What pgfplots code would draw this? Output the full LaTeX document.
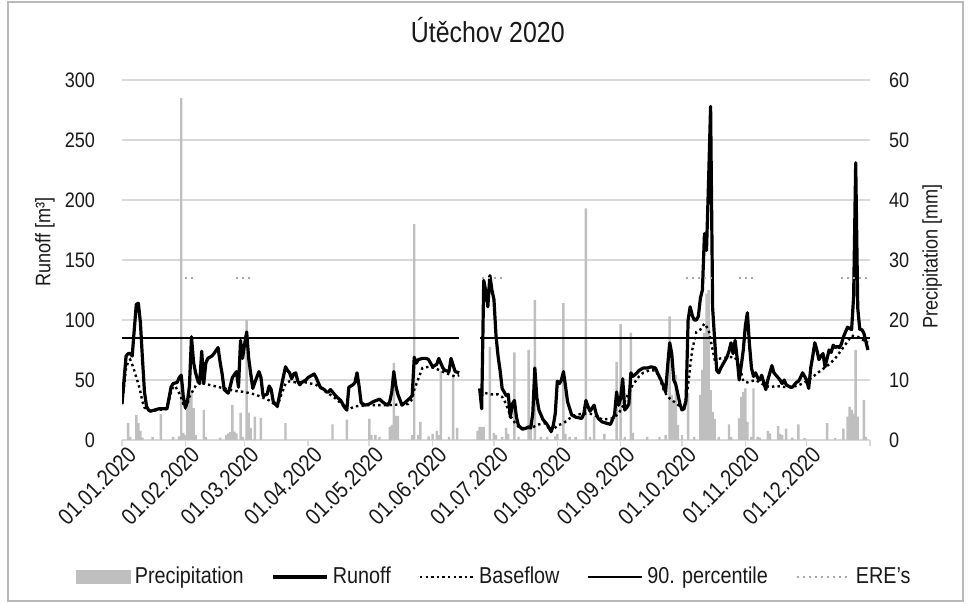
\documentclass[border=0pt]{standalone}
\usepackage{fontspec}
\setmainfont{Liberation Sans}[FakeStretch=0.86]
\usepackage{pgfplots}
\pgfplotsset{compat=1.18}
\definecolor{pgray}{RGB}{191,191,191}
\definecolor{gridc}{RGB}{217,217,217}
\definecolor{erec}{RGB}{170,170,170}
\definecolor{txt}{RGB}{25,25,25}
\newcommand{\fs}{\fontsize{10.5}{12.6}\selectfont}
\newcommand{\fl}{\fontsize{11.5}{13.8}\selectfont}

\pgfplotstableread{
d P
3 2.8
4 0.5
7 4.2
8 2.8
9 1.5
10 0.4
15 0.5
19 4.3
25 0.5
28 0.6
29 57
30 1.2
31 0.8
32 6.4
33 7.5
34 8
35 5.3
36 0.8
40 5
41 0.5
48 0.4
51 0.8
52 1.1
53 1.3
54 5.8
55 1.4
56 1.1
58 4.5
59 0.5
61 20
62 4.5
63 2
65 3.9
68 3.7
80 2.8
103 2.6
110 3.4
121 3.5
122 0.8
124 0.8
126 0.5
131 2.2
132 2.5
133 12.8
134 4
135 4
142 0.8
143 36
145 0.8
146 3
150 0.6
152 1
154 1.5
155 0.8
156 11.5
160 0.5
162 10.8
164 2
174 1.5
175 2.2
176 2.2
177 2.2
180 15.5
182 1.2
183 0.8
186 0.5
188 2
189 1
192 14.6
194 0.5
199 15
200 2.3
202 23.3
205 0.5
208 0.5
212 0.6
213 1
216 22.8
217 1
219 0.5
222 0.5
227 38.6
229 0.5
231 3.9
236 1
242 13
244 19.3
246 0.5
249 17.9
250 1.2
257 0.5
263 0.5
266 0.8
268 20.6
269 7.5
270 6.1
271 10.8
272 2.5
274 0.8
277 7.8
280 0.5
283 7.5
284 11.7
285 17.8
286 24.4
287 25
288 8.3
289 4.7
290 3.5
292 0.5
297 2.6
298 0.5
302 3.6
303 7.2
304 8
305 8.6
306 3
308 0.5
309 8.6
311 0.5
312 0.4
316 1.5
317 1.1
321 2.3
322 1
323 0.8
325 1.9
328 0.4
331 2.6
334 0.3
345 2.8
349 0.3
353 1.9
355 3.9
356 5.5
357 5
358 4.4
359 15
360 3.9
363 6.7
364 0.5
}\precip

\pgfplotstableread{
d R
0 30
1 50
2 70
3 72
4 72
5 70
6 92
7 113
8 114
9 98
10 68
11 40
12 28
13 25
14 24
16 25
18 26
20 26
22 26
23 35
24 44
25 47
27 48
28 52
29 54
30 36
31 27
32 32
33 45
34 86
35 65
36 56
37 50
38 47
39 74
40 47
41 64
42 68
44 70
45 72
47 77
48 65
49 55
50 42
52 39
53 45
54 52
56 57
57 44
58 83
59 68
60 80
61 90
62 68
63 55
64 43
65 48
67 57
68 52
69 37
71 38
72 45
73 42
74 32
76 28
78 45
80 61
81 58
82 56
83 51
84 55
85 56
86 49
87 46
88 48
90 50
91 52
92 53
94 55
95 52
96 48
97 44
99 42
100 40
101 40
102 42
103 40
104 38
105 36
107 33
108 30
109 27
110 25
111 44
113 46
114 48
115 56
116 45
117 31
119 29
121 30
123 32
126 34
128 31
130 29
131 32
132 40
133 57
134 45
135 38
137 29
139 32
141 35
142 37
143 69
144 64
145 67
147 68
149 68
150 67
151 64
152 61
154 63
155 68
156 64
157 60
158 58
160 57
161 68
163 57
165 56
170 nan
175 43
176 26
177 133
178 124
179 111
180 137
181 125
182 117
183 87
184 70
185 58
186 43
188 37
189 38
190 19
191 30
192 33
193 19
194 12
196 9
198 10
199 11
200 10
201 22
202 60
203 35
204 25
206 17
208 13
210 7
211 12
212 22
213 49
214 47
215 50
216 57
217 45
218 32
220 21
222 19
225 18
226 22
227 33
228 28
229 24
231 29
232 22
233 18
235 15
237 14
239 13
241 21
242 40
243 29
244 35
245 51
246 25
247 27
248 30
249 56
250 53
252 56
253 58
255 60
257 60
259 61
261 60
262 56
264 49
266 40
267 62
268 81
269 72
270 50
271 46
273 30
274 25
275 26
276 33
277 100
278 111
279 104
280 100
281 100
282 103
283 118
284 125
285 172
286 158
287 215
288 278
289 110
290 83
291 58
292 56
293 60
294 63
296 69
297 74
298 81
299 72
300 83
301 68
302 50
303 62
304 75
305 95
306 106
307 80
308 60
309 53
310 56
311 52
312 50
313 54
314 48
315 42
316 50
317 56
318 62
319 56
320 54
321 52
322 50
323 47
324 50
325 46
326 45
327 44
328 44
329 46
330 48
331 49
332 52
333 56
334 53
335 50
336 43
337 60
338 70
339 81
340 75
341 67
342 70
343 72
344 61
345 68
346 75
347 73
348 79
349 77
350 78
351 77
352 80
353 86
354 90
355 94
356 93
357 92
358 120
359 231
360 110
361 92
362 92
363 89
364 82
365 75
}\runoff

\pgfplotstableread{
d B
0 30
1 45
2 60
3 65
4 67
5 63
6 58
7 52
8 47
9 40
10 32
11 27
12 26
14 24
22 26
23 33
24 40
25 44
26 45
27 42
28 39
29 35
30 30
31 27
32 30
33 36
35 42
37 48
40 47
45 45
50 43
55 41
60 40
65 38
68 36
72 33
76 28
78 38
80 47
82 49
85 48
90 48
95 46
100 40
105 34
108 29
110 25
114 28
120 29
130 29
140 30
142 34
143 42
145 51
147 60
150 61
153 60
158 56
163 53
165 54
170 nan
175 40
178 39
181 38
184 38
186 36
188 30
190 20
192 15
194 11
196 10
200 10
204 13
207 14
210 7
213 12
216 14
219 18
222 21
226 22
229 22
232 20
235 17
240 18
243 22
245 28
248 40
250 46
253 53
255 56
258 58
261 58
263 52
265 42
267 36
270 32
273 28
275 26
277 45
278 61
279 75
281 90
283 92
285 97
287 92
289 75
290 67
293 68
297 69
300 69
302 60
303 56
304 49
306 48
310 50
314 46
317 44
320 45
325 44
330 45
333 47
336 50
339 54
342 58
346 63
349 68
352 75
355 82
357 87
360 86
363 83
365 81
}\baseflow

\begin{document}
\begin{tikzpicture}
\path[use as bounding box] (-61pt,-82pt) rectangle (423pt,220pt);
\draw[gray!55, line width=0.8pt] (-57pt,-80.5pt) rectangle (420.5pt,219pt);
% precipitation axis (right)
\begin{axis}[
  at={(0,0)}, anchor=south west, scale only axis,
  width=374pt, height=180pt,
  xmin=0, xmax=366, ymin=0, ymax=60,
  axis y line*=right, axis x line*=bottom,
  y axis line style={draw=none},
  x axis line style={gridc, line width=0.8pt},
  ytick={0,10,...,60},
  ytick style={draw=none},
  ymajorgrids, grid style={gridc, line width=0.8pt},
  xtick={0,31,60,91,121,152,182,213,244,274,305,335,366},
  xticklabels={01.01.2020,01.02.2020,01.03.2020,01.04.2020,01.05.2020,01.06.2020,01.07.2020,01.08.2020,01.09.2020,01.10.2020,01.11.2020,01.12.2020,},
  x tick style={gridc, line width=0.8pt},
  tick align=outside, major tick length=3pt,
  xticklabel style={rotate=45, anchor=north east, font=\fl, text=txt, inner sep=1pt, xshift=3pt},
  yticklabel style={font=\fs, text=txt, xshift=3pt},
  /pgf/number format/assume math mode=true,
  ylabel={Precipitation [mm]},
  ylabel style={font=\fs, text=txt, at={(axis description cs:1.083,0.51)}, anchor=center},
]
\addplot[ybar, bar width=1.2, fill=pgray, draw=none] table[x=d, y=P] {\precip};
\end{axis}
% runoff axis (left)
\begin{axis}[
  at={(0,0)}, anchor=south west, scale only axis,
  width=374pt, height=180pt,
  xmin=0, xmax=366, ymin=0, ymax=300,
  axis x line=none, axis y line*=left,
  y axis line style={draw=none},
  ytick={0,50,...,300},
  ytick style={draw=none},
  yticklabel style={font=\fs, text=txt, xshift=-10pt},
  /pgf/number format/assume math mode=true,
  ylabel={Runoff [m³]},
  ylabel style={font=\fs, text=txt, at={(axis description cs:-0.103,0.55)}, anchor=center},
  title={Útěchov 2020},
  title style={at={(axis description cs:0.489,1)}, anchor=center, yshift=19pt, font=\fontsize{14.5}{17}\selectfont, text=txt},
  unbounded coords=jump,
  legend style={at={(axis description cs:0.499,0)}, anchor=center, yshift=-68.5pt, draw=none, fill=none, font=\fl, text=txt, legend columns=-1, /tikz/every even column/.append style={column sep=12pt}},
  legend image code/.code={\draw[#1] (0pt,0pt) -- (27pt,0pt);},
]
\addlegendimage{legend image code/.code={\fill[pgray] (0pt,-3.2pt) rectangle (27pt,3.2pt);}}
\addlegendentry{Precipitation}
\addplot[black, line width=1.6pt, line join=round] table[x=d, y=R] {\runoff};
\addlegendentry{Runoff}
\addplot[black, line width=1.2pt, dash pattern=on 1.2pt off 1.6pt] table[x=d, y=B] {\baseflow};
\addlegendentry{Baseflow}
\addplot[black, line width=0.9pt] coordinates {(0,85) (165,85) (170,nan) (175,85) (366,85)};
\addlegendentry{90. percentile}
\addplot[erec, line width=1pt, dash pattern=on 1pt off 2pt] coordinates {(31,135) (34.7,135) (40,nan) (56,135) (63.5,135) (70,nan) (176,135) (185.7,135) (190,nan) (276,135) (288.5,135) (295,nan) (302,135) (309.3,135) (320,nan) (352,135) (366,135)};
\addlegendentry{ERE's}
\end{axis}
\end{tikzpicture}
\end{document}
